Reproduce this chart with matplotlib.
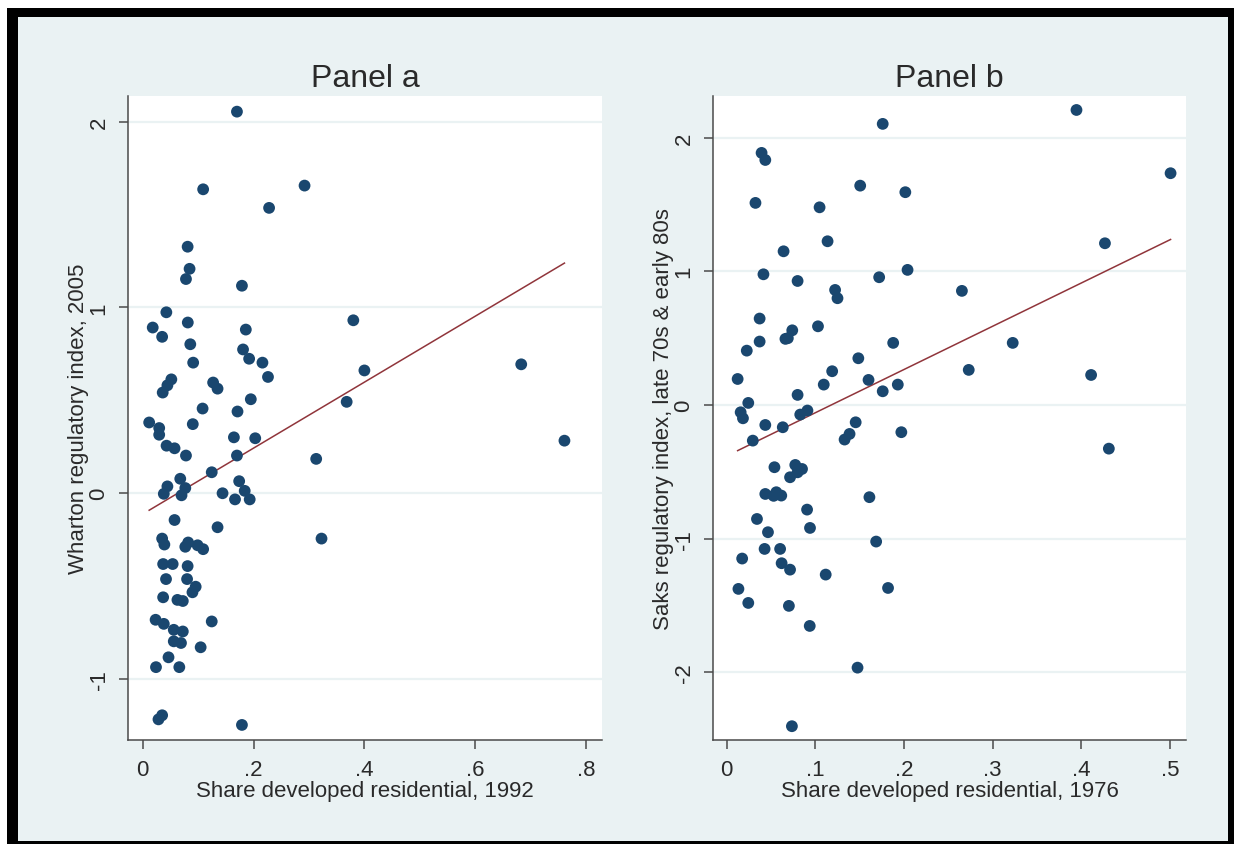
import matplotlib
matplotlib.use("Agg")
import matplotlib.pyplot as plt
from matplotlib.patches import Rectangle
import numpy as np

plt.rcParams['font.family'] = ['Liberation Sans', 'DejaVu Sans']

# ======================== DATA ========================

# Panel a: share developed residential 1992 vs Wharton index 2005
share_1992 = [0.170, 0.109, 0.292, 0.228, 0.081, 0.0845, 0.078, 0.179, 0.0426, 0.380,
              0.018, 0.0813, 0.035, 0.186, 0.0858, 0.181, 0.192, 0.091, 0.216, 0.683,
              0.400, 0.226, 0.0516, 0.0445, 0.036, 0.127, 0.135, 0.195, 0.108, 0.368,
              0.171, 0.0116, 0.0903, 0.0297, 0.0297, 0.1645, 0.203, 0.761, 0.043, 0.0574,
              0.078, 0.170, 0.313, 0.1245, 0.0677, 0.174, 0.0445, 0.0768, 0.038, 0.070,
              0.144, 0.1665, 0.184, 0.193,
              0.0574, 0.135, 0.3226, 0.035, 0.039, 0.0768, 0.082, 0.099, 0.109, 0.0368,
              0.054, 0.081, 0.042, 0.080, 0.0955, 0.0897, 0.0368, 0.0626, 0.0723, 0.0232,
              0.038, 0.1245, 0.056, 0.0723, 0.056, 0.069, 0.1045, 0.0465, 0.0239, 0.066,
              0.035, 0.0284, 0.179]
wharton_2005 = [2.054, 1.636, 1.656, 1.536, 1.327, 1.208, 1.153, 1.117, 0.974, 0.931,
                0.892, 0.919, 0.842, 0.881, 0.802, 0.774, 0.724, 0.703, 0.703, 0.694,
                0.661, 0.626, 0.613, 0.581, 0.542, 0.596, 0.563, 0.506, 0.456, 0.492,
                0.440, 0.381, 0.372, 0.351, 0.315, 0.301, 0.296, 0.283, 0.256, 0.242,
                0.203, 0.203, 0.185, 0.113, 0.078, 0.065, 0.037, 0.028, -0.003, -0.011,
                0.000, -0.033, 0.013, -0.033,
                -0.144, -0.183, -0.244, -0.244, -0.276, -0.288, -0.265, -0.280, -0.301, -0.381,
                -0.381, -0.392, -0.462, -0.462, -0.503, -0.533, -0.560, -0.574, -0.580, -0.681,
                -0.703, -0.690, -0.735, -0.744, -0.797, -0.806, -0.829, -0.883, -0.936, -0.936,
                -1.195, -1.217, -1.247]

# Panel b: share developed residential 1976 vs Saks index
share_1976 = [0.3945, 0.176, 0.0394, 0.0436, 0.5006, 0.1506, 0.2015, 0.0325, 0.1048, 0.1138,
              0.4266, 0.0642, 0.204, 0.0415, 0.172, 0.080, 0.2653, 0.1223, 0.125, 0.0372,
              0.103, 0.074, 0.069, 0.0663, 0.0372, 0.0227, 0.1878, 0.3226, 0.1485, 0.119,
              0.273, 0.411, 0.0124, 0.160, 0.1095, 0.193, 0.176, 0.080, 0.0244, 0.0158,
              0.0184, 0.0911, 0.083, 0.0436, 0.0633, 0.1455, 0.197, 0.0295, 0.1386, 0.133,
              0.431, 0.0539, 0.0774, 0.085, 0.0715, 0.080, 0.0436, 0.056, 0.0616, 0.053,
              0.161, 0.0907, 0.0342, 0.094, 0.0466, 0.1686, 0.0428, 0.0603, 0.0175, 0.062,
              0.0715, 0.1117, 0.0133, 0.182, 0.0244, 0.0702, 0.0937, 0.1476, 0.0736]
saks_index = [2.206, 2.102, 1.885, 1.832, 1.733, 1.640, 1.591, 1.511, 1.478, 1.224,
              1.209, 1.149, 1.010, 0.977, 0.955, 0.927, 0.853, 0.860, 0.798, 0.646,
              0.588, 0.558, 0.499, 0.494, 0.474, 0.406, 0.464, 0.464, 0.349, 0.252,
              0.262, 0.224, 0.194, 0.187, 0.152, 0.152, 0.102, 0.075, 0.015, -0.055,
              -0.100, -0.042, -0.072, -0.150, -0.167, -0.130, -0.204, -0.267, -0.217, -0.259,
              -0.327, -0.466, -0.449, -0.479, -0.541, -0.504, -0.666, -0.653, -0.678, -0.680,
              -0.690, -0.783, -0.853, -0.920, -0.952, -1.022, -1.077, -1.077, -1.149, -1.184,
              -1.232, -1.269, -1.376, -1.369, -1.481, -1.503, -1.653, -1.965, -2.403]

# linear fits (intercept, slope) as drawn in the picture
fit_a = (-0.112, 1.775)
fit_b = (-0.382, 3.235)

xticks_a = [0, 0.2, 0.4, 0.6, 0.8]
xlabels_a = ['0', '.2', '.4', '.6', '.8']
yticks_a = [-1, 0, 1, 2]
ylabels_a = ['-1', '0', '1', '2']

xticks_b = [0, 0.1, 0.2, 0.3, 0.4, 0.5]
xlabels_b = ['0', '.1', '.2', '.3', '.4', '.5']
yticks_b = [-2, -1, 0, 1, 2]
ylabels_b = ['-2', '-1', '0', '1', '2']

# ======================== STYLE ========================

W, H = 1234, 845
bg = '#eaf2f3'
navy = '#1a476f'
maroon = '#90353b'
axis_col = '#4a4a4a'
text_col = '#2a2a2a'
fs = 16

fig = plt.figure(figsize=(W / 100, H / 100), dpi=100, facecolor='white')

# screenshot frame: black border then the light graph region
fig.add_artist(Rectangle((7 / W, 0), (W - 7) / W, (H - 9) / H, transform=fig.transFigure,
                         facecolor='black', edgecolor='none', zorder=-10))
fig.add_artist(Rectangle((18 / W, 3 / H), 1210 / W, 824 / H, transform=fig.transFigure,
                         facecolor=bg, edgecolor='none', zorder=-9))


def make_panel(rect, x, y, fit, xlim, ylim, xt, xl, yt, yl, title, xlabel, ylabel):
    ax = fig.add_axes(rect)
    ax.set_facecolor('white')
    ax.set_axisbelow(True)
    ax.yaxis.grid(True, color=bg, lw=1.6)

    ax.scatter(x, y, s=72, color=navy, edgecolors='none', zorder=3)
    xs = np.array([min(x), max(x)])
    ax.plot(xs, fit[0] + fit[1] * xs, color=maroon, lw=1.1, zorder=2)

    ax.set_xlim(*xlim)
    ax.set_ylim(*ylim)
    ax.set_xticks(xt)
    ax.set_xticklabels(xl)
    ax.set_yticks(yt)
    ax.set_yticklabels(yl, rotation=90, va='center')

    for side in ['top', 'right']:
        ax.spines[side].set_visible(False)
    for side in ['left', 'bottom']:
        ax.spines[side].set_color(axis_col)
        ax.spines[side].set_linewidth(1.1)
    ax.tick_params(direction='out', length=6.5, width=1.1, color=axis_col,
                   pad=7, labelsize=fs, labelcolor=text_col)

    ax.set_title(title, fontsize=23, color=text_col, pad=7)
    ax.set_xlabel(xlabel, fontsize=fs, color=text_col, labelpad=0.5)
    ax.set_ylabel(ylabel, fontsize=fs, color=text_col, labelpad=0)
    return ax


make_panel([0.1040, 0.1231, 0.3835, 0.7625], share_1992, wharton_2005, fit_a,
           (-0.026, 0.828), (-1.328, 2.140), xticks_a, xlabels_a, yticks_a, ylabels_a,
           'Panel a', 'Share developed residential, 1992', 'Wharton regulatory index, 2005')

make_panel([0.5780, 0.1231, 0.3831, 0.7625], share_1976, saks_index, fit_b,
           (-0.0151, 0.518), (-2.506, 2.313), xticks_b, xlabels_b, yticks_b, ylabels_b,
           'Panel b', 'Share developed residential, 1976',
           'Saks regulatory index, late 70s & early 80s')

fig.savefig('out.png', dpi=100, facecolor=fig.get_facecolor())
